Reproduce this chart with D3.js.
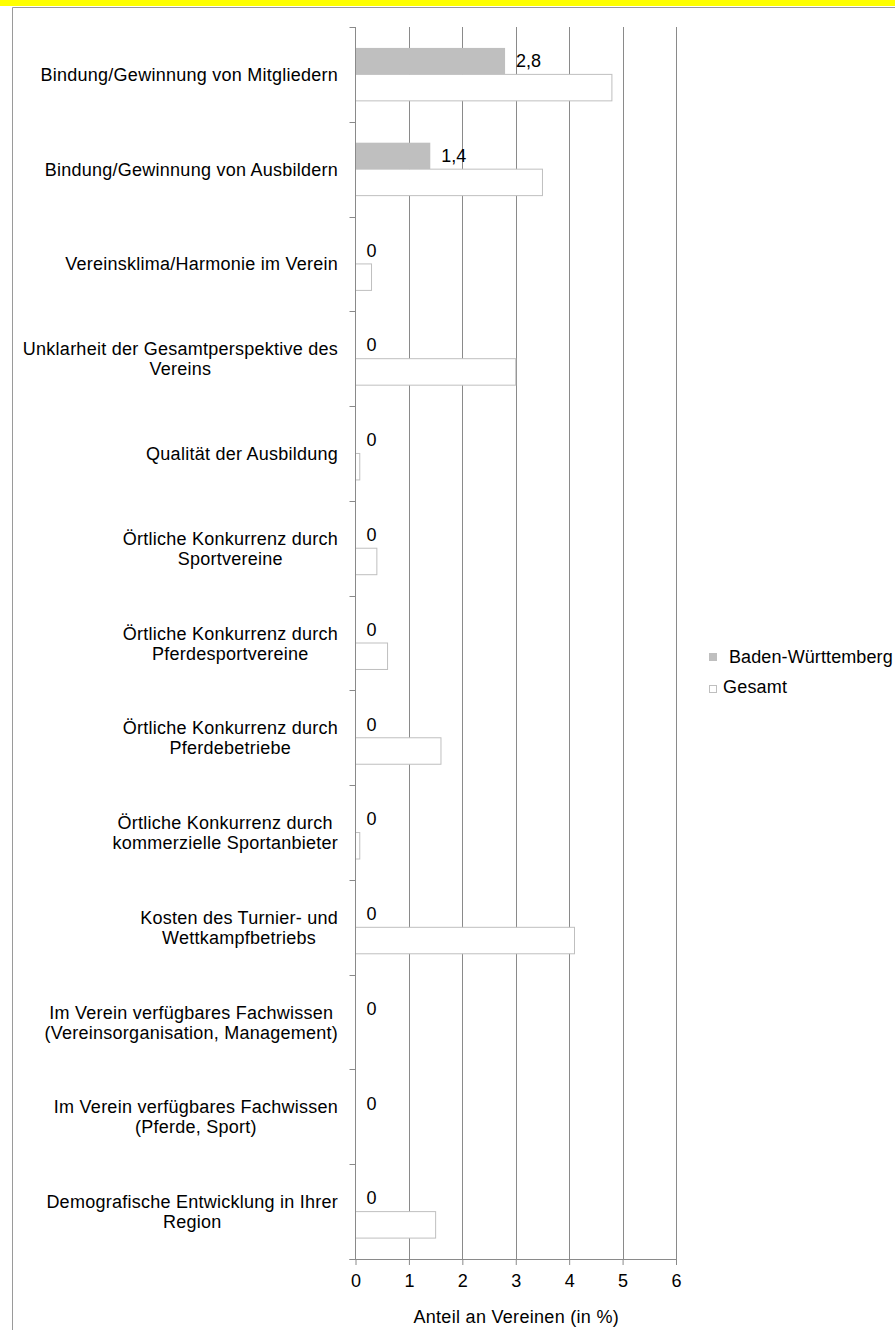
<!DOCTYPE html>
<html>
<head>
<meta charset="utf-8">
<script src="https://cdn.jsdelivr.net/npm/d3@7"></script>
<style>
  html, body { margin: 0; padding: 0; background: #fff; }
  svg { display: block; }
  text { font-family: "Liberation Sans", Arial, sans-serif; fill: #000; }
</style>
</head>
<body>
<svg id="chart" width="895" height="1330"></svg>
<script>
// ---- data ----
const categories = [
  "Bindung/Gewinnung von Mitgliedern",
  "Bindung/Gewinnung von Ausbildern",
  "Vereinsklima/Harmonie im Verein",
  "Unklarheit der Gesamtperspektive des|Vereins",
  "Qualität der Ausbildung",
  "Örtliche Konkurrenz durch|Sportvereine",
  "Örtliche Konkurrenz durch|Pferdesportvereine",
  "Örtliche Konkurrenz durch|Pferdebetriebe",
  "Örtliche Konkurrenz durch|kommerzielle Sportanbieter",
  "Kosten des Turnier- und|Wettkampfbetriebs",
  "Im Verein verfügbares Fachwissen|(Vereinsorganisation, Management)",
  "Im Verein verfügbares Fachwissen|(Pferde, Sport)",
  "Demografische Entwicklung in Ihrer|Region"
];
const seriesNames = ["Baden-Württemberg", "Gesamt"];
const bwValues = [2.8, 1.4, 0, 0, 0, 0, 0, 0, 0, 0, 0, 0, 0];
const gesamtValues = [4.8, 3.5, 0.3, 3.0, 0.08, 0.4, 0.6, 1.6, 0.08, 4.1, 0, 0, 1.5];
const xTicks = [0, 1, 2, 3, 4, 5, 6];
const xTitle = "Anteil an Vereinen (in %)";

// ---- layout ----
const svg = d3.select("#chart");
const W = 895, H = 1330;
const plot = { left: 355.5, right: 676, top: 27, bottom: 1259 };
const FS = 18;

// yellow strip + frame
svg.append("rect").attr("x", 0).attr("y", 0).attr("width", W).attr("height", 6).attr("fill", "#ffff00");
svg.append("path").attr("d", `M12.5,${H} V7.5 H${W}`).attr("fill", "none").attr("stroke", "#9a9a9a").attr("stroke-width", 1);

const x = d3.scaleLinear().domain([0, 6]).range([plot.left, plot.right]);
const y = d3.scaleBand().domain(d3.range(categories.length)).range([plot.top, plot.bottom]).padding(0);
const ySub = d3.scaleBand().domain(seriesNames).range([0, y.bandwidth()]).paddingInner(0).paddingOuter(0.79);

const g = svg.append("g");

// gridlines
g.selectAll("line.grid").data(xTicks.filter(d => d > 0)).enter().append("line")
  .attr("x1", d => Math.round(x(d)) + 0.5).attr("x2", d => Math.round(x(d)) + 0.5)
  .attr("y1", plot.top).attr("y2", plot.bottom)
  .attr("stroke", "#8a8a8a").attr("stroke-width", 1);

// bars
const rows = categories.map((c, i) => ({ i, bw: bwValues[i], ge: gesamtValues[i] }));
g.selectAll("rect.bw").data(rows).enter().append("rect")
  .attr("x", x(0)).attr("y", d => y(d.i) + ySub(seriesNames[0]))
  .attr("width", d => x(d.bw) - x(0)).attr("height", ySub.bandwidth())
  .attr("fill", "#bfbfbf");
g.selectAll("rect.ge").data(rows).enter().append("rect")
  .attr("x", x(0)).attr("y", d => y(d.i) + ySub(seriesNames[1]))
  .attr("width", d => x(d.ge) - x(0)).attr("height", ySub.bandwidth())
  .attr("fill", "#ffffff").attr("stroke", "#bfbfbf").attr("stroke-width", 1);

// data labels for BW
const fmt = v => v === 0 ? "0" : d3.format(".1f")(v).replace(".", ",");
g.selectAll("text.lbl").data(rows).enter().append("text")
  .attr("x", d => x(d.bw) + 11)
  .attr("y", d => y(d.i) + ySub(seriesNames[0]) + ySub.bandwidth() / 2 + 6)
  .attr("font-size", FS).text(d => fmt(d.bw));

// y axis line + ticks
g.append("line").attr("x1", plot.left).attr("x2", plot.left).attr("y1", plot.top).attr("y2", plot.bottom)
  .attr("stroke", "#8a8a8a");
const bounds = d3.range(categories.length + 1).map(i => plot.top + i * y.step());
g.selectAll("line.ytick").data(bounds).enter().append("line")
  .attr("x1", plot.left - 6).attr("x2", plot.left)
  .attr("y1", d => Math.round(d) + 0.5).attr("y2", d => Math.round(d) + 0.5)
  .attr("stroke", "#8a8a8a");

// x axis
const xAxis = d3.axisBottom(x).tickValues(xTicks).tickFormat(d3.format("d")).tickSize(6).tickPadding(6);
const ax = g.append("g").attr("transform", `translate(0,${plot.bottom})`).call(xAxis);
ax.select(".domain").attr("stroke", "#8a8a8a").attr("d", `M${plot.left - 6},0.5H${plot.right}`);
ax.selectAll(".tick line").attr("stroke", "#8a8a8a");
ax.selectAll(".tick text").attr("font-size", FS).attr("font-family", "Liberation Sans, Arial, sans-serif").attr("fill", "#000").attr("dy", "0.9em");

svg.append("text").attr("x", (plot.left + plot.right) / 2 + 0.5).attr("y", 1323)
  .attr("text-anchor", "middle").attr("font-size", FS).attr("letter-spacing", 0.3).text(xTitle);

// category labels (centered lines, right edge at 338)
categories.forEach((c, i) => {
  const lines = c.split("|");
  const t = svg.append("text").attr("font-size", FS).attr("text-anchor", "middle").attr("letter-spacing", 0.25);
  const cy = y(i) + y.bandwidth() / 2;
  const lh = 20;
  const spans = lines.map((ln, k) => t.append("tspan").text(ln)
    .attr("y", cy + (k - (lines.length - 1) / 2) * lh + 6.5));
  const maxW = d3.max(spans, s => s.node().getComputedTextLength());
  const cx = 338 - maxW / 2;
  spans.forEach(s => s.attr("x", cx));
});

// legend
const leg = svg.append("g");
leg.append("rect").attr("x", 709).attr("y", 653).attr("width", 8).attr("height", 8).attr("fill", "#bfbfbf");
leg.append("text").attr("x", 729).attr("y", 663).attr("font-size", FS).attr("letter-spacing", 0.1).text(seriesNames[0]);
leg.append("rect").attr("x", 709.5).attr("y", 685.5).attr("width", 7).attr("height", 7).attr("fill", "#fff").attr("stroke", "#bfbfbf");
leg.append("text").attr("x", 723).attr("y", 693).attr("font-size", FS).attr("letter-spacing", 0.2).text(seriesNames[1]);
</script>
</body>
</html>
